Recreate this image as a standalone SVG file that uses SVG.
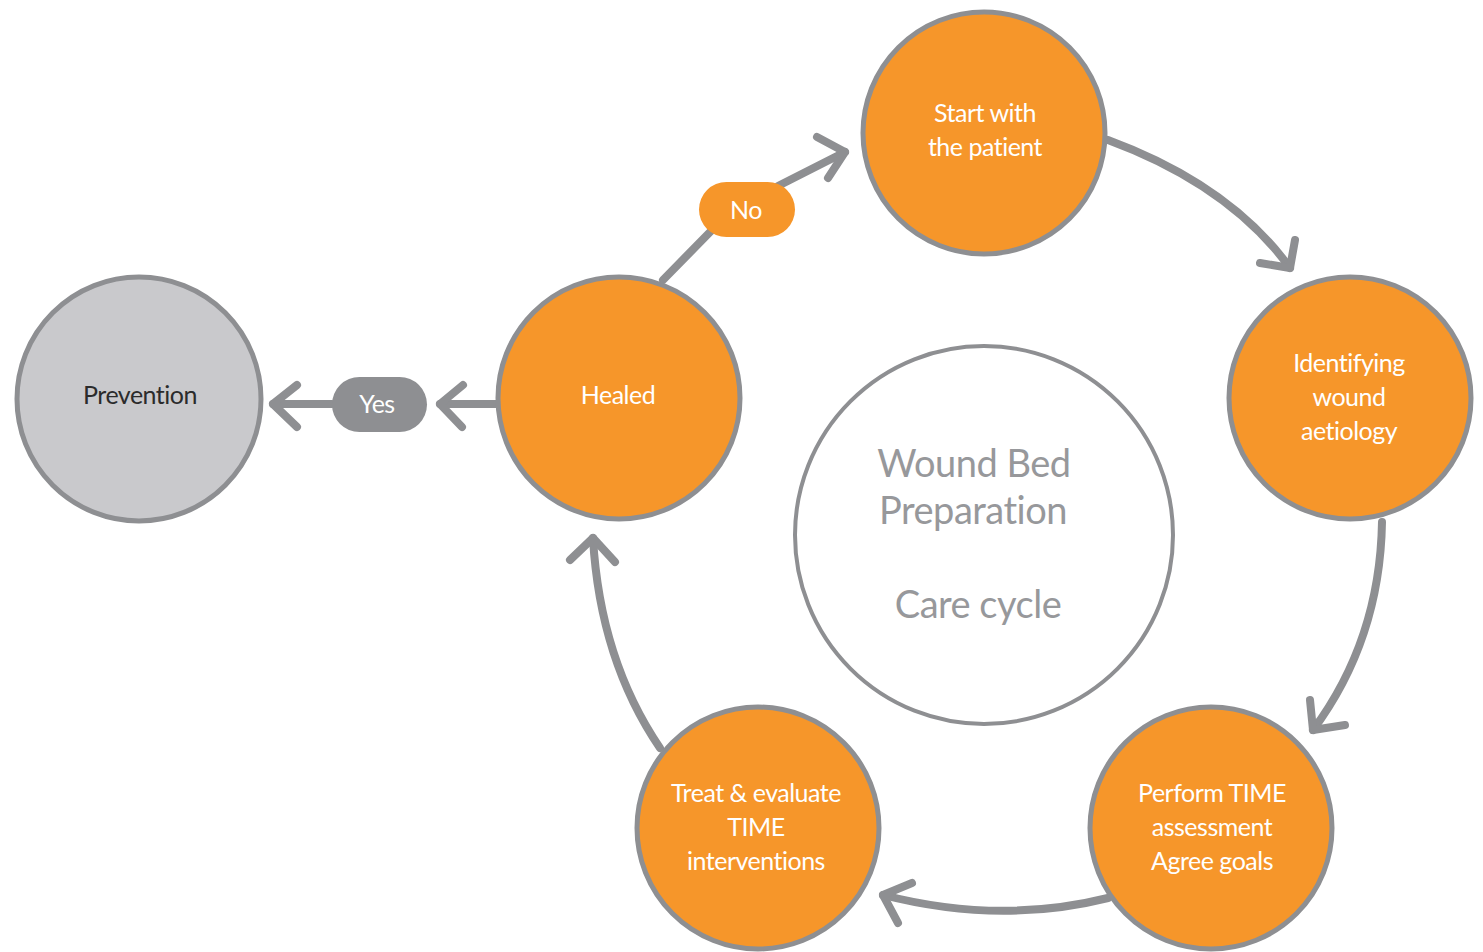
<svg xmlns="http://www.w3.org/2000/svg" width="1483" height="952" viewBox="0 0 1483 952">
<style>
.node{fill:#f6962a;stroke:#8e8f92;stroke-width:5}
.prev{fill:#c9c9cc;stroke:#8e8f92;stroke-width:5}
.center{fill:#ffffff;stroke:#8e8f92;stroke-width:4}
.lbl{font-family:Lato,"Open Sans","Liberation Sans",sans-serif;font-size:25px;letter-spacing:-0.5px;fill:#ffffff;text-anchor:middle}
.dark{fill:#2b2b2b}
.big{font-family:Lato,"Open Sans","Liberation Sans",sans-serif;font-size:38px;letter-spacing:-0.5px;fill:#97989b;text-anchor:middle}
.conn{fill:none;stroke:#8e8f92;stroke-width:8;stroke-linecap:round;stroke-linejoin:round}
.pill{fill:#f6962a}
.pillg{fill:#8e8f92}
</style>
<rect width="1483" height="952" fill="#ffffff"/>
<g id="connectors">
<path class="conn" d="M1108,140 Q1230,185 1290,268"/>
<path class="conn" d="M1260,263 L1290,268 L1295,240"/>
<path class="conn" d="M1382,522 Q1380,640 1313,730"/>
<path class="conn" d="M1310,700 L1313,730 L1345,725"/>
<path class="conn" d="M1108,898 Q1000,925 883,895"/>
<path class="conn" d="M912,883 L883,895 L898,923"/>
<path class="conn" d="M660,748 Q600,660 593,538"/>
<path class="conn" d="M570,560 L593,538 L615,562"/>
<path class="conn" d="M663,280 L712,230"/>
<path class="conn" d="M778,186 L845,152"/>
<path class="conn" d="M817,137 L845,152 L828,178"/>
<path class="conn" d="M497,404 L440,404"/>
<path class="conn" d="M463,385 L440,404 L462,427"/>
<path class="conn" d="M332,404 L273,404"/>
<path class="conn" d="M297,385 L273,404 L297,427"/>
<g id="label-no"><rect class="pill" x="699" y="182" width="96" height="55" rx="27.5"/><text class="lbl" x="746" y="219">No</text></g>
<g id="label-yes"><rect class="pillg" x="332" y="377" width="95" height="55" rx="27.5"/><text class="lbl" x="377" y="413">Yes</text></g>
</g>
<g id="center"><circle class="center" cx="984" cy="535" r="189"/><text class="big" x="974" y="477">Wound Bed</text><text class="big" x="973" y="524">Preparation</text><text class="big" x="978" y="618">Care cycle</text></g>
<g id="start"><circle class="node" cx="984" cy="133" r="121"/><text class="lbl" x="985" y="122">Start with</text><text class="lbl" x="985" y="156">the patient</text></g>
<g id="identify"><circle class="node" cx="1350" cy="398" r="121"/><text class="lbl" x="1349" y="372">Identifying</text><text class="lbl" x="1349" y="406">wound</text><text class="lbl" x="1349" y="440">aetiology</text></g>
<g id="perform"><circle class="node" cx="1211" cy="828" r="121"/><text class="lbl" x="1212" y="802">Perform TIME</text><text class="lbl" x="1212" y="836">assessment</text><text class="lbl" x="1212" y="870">Agree goals</text></g>
<g id="treat"><circle class="node" cx="758" cy="828" r="121"/><text class="lbl" x="756" y="802">Treat &amp; evaluate</text><text class="lbl" x="756" y="836">TIME</text><text class="lbl" x="756" y="870">interventions</text></g>
<g id="healed"><circle class="node" cx="619" cy="398" r="121"/><text class="lbl" x="618" y="404">Healed</text></g>
<g id="prevention"><circle class="prev" cx="139" cy="399" r="122"/><text class="lbl dark" x="140" y="404">Prevention</text></g>
</svg>
